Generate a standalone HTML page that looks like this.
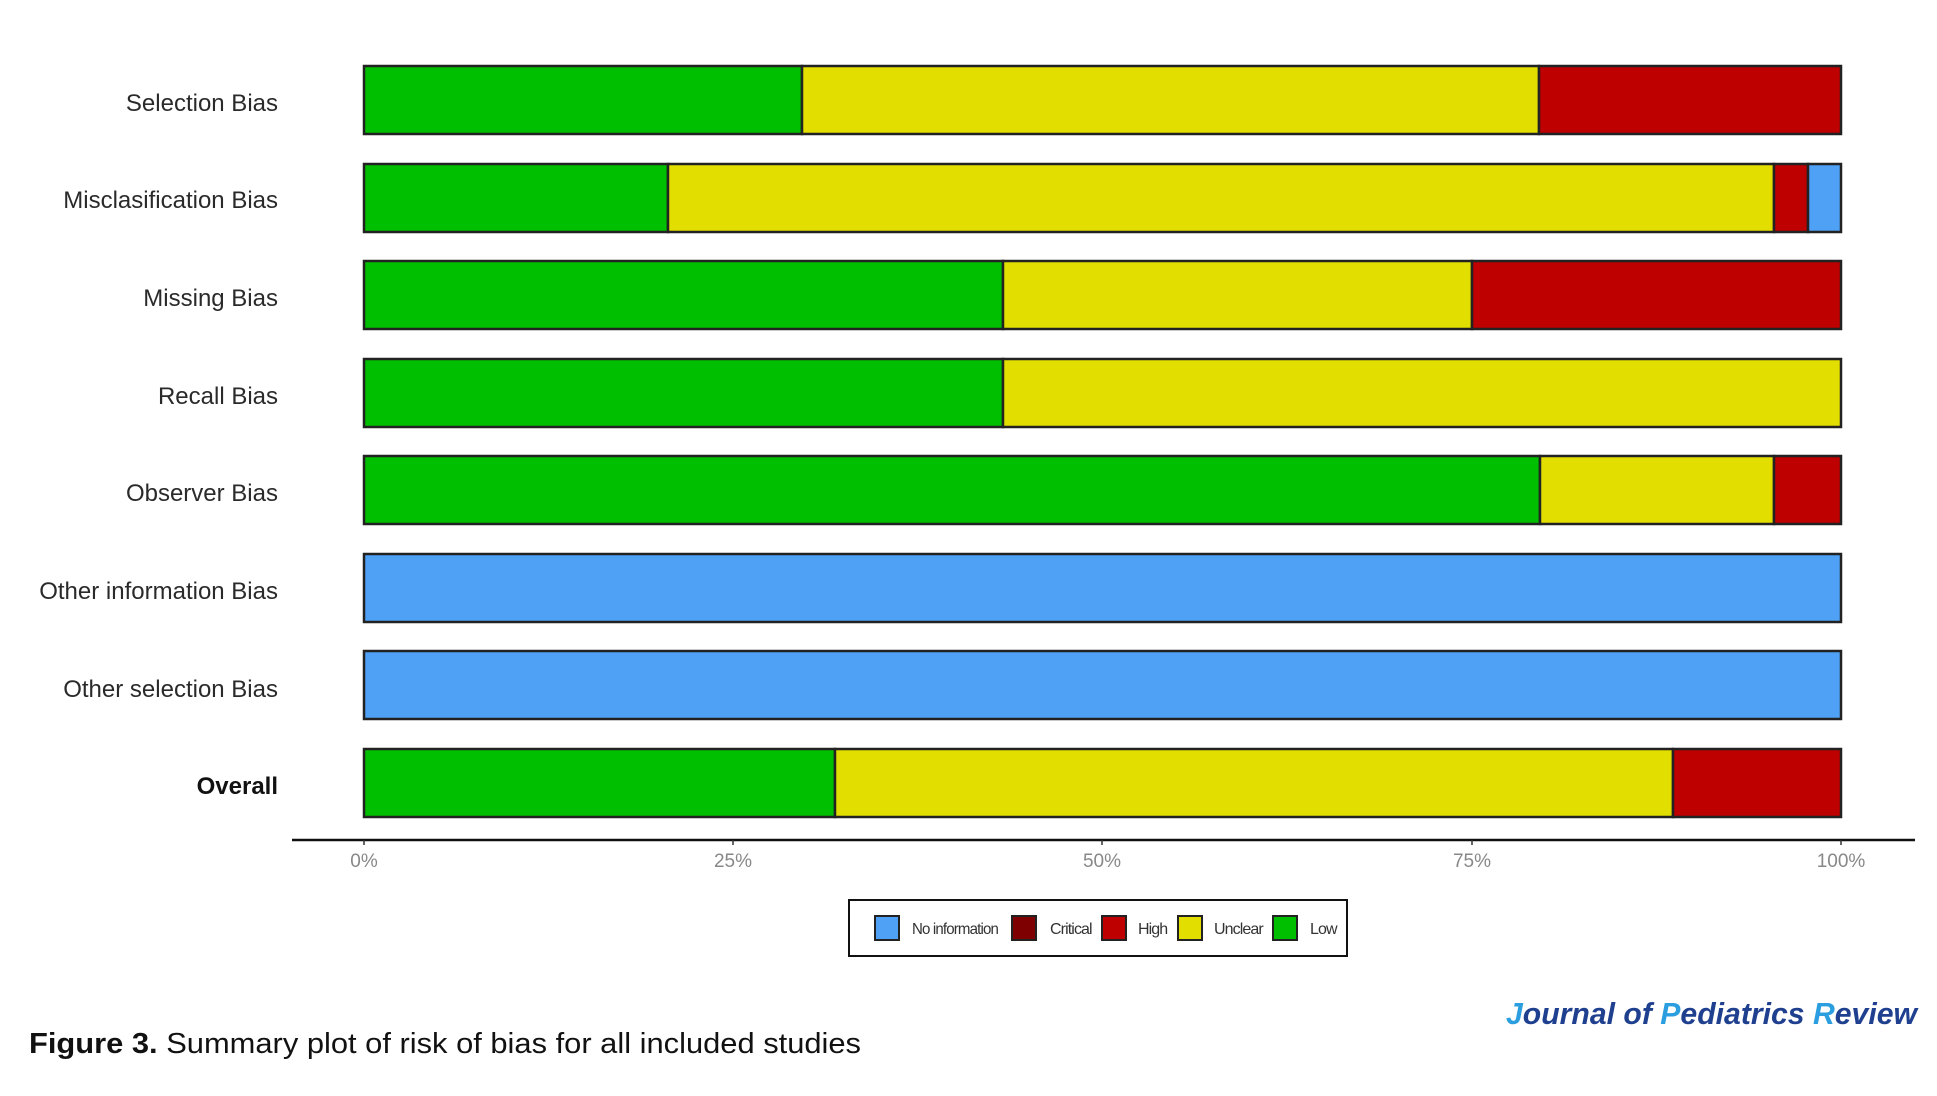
<!DOCTYPE html>
<html><head><meta charset="utf-8"><style>
html,body{margin:0;padding:0;background:#fff;}
svg{display:block;}
</style></head><body>
<svg width="1937" height="1096" viewBox="0 0 1937 1096" xmlns="http://www.w3.org/2000/svg" font-family="Liberation Sans, sans-serif">
<rect width="1937" height="1096" fill="#fff"/>
<g font-size="24" fill="#2a2a2a" text-anchor="end">
<text x="278" y="111">Selection Bias</text>
<text x="278" y="208">Misclasification Bias</text>
<text x="278" y="306">Missing Bias</text>
<text x="278" y="404">Recall Bias</text>
<text x="278" y="501">Observer Bias</text>
<text x="278" y="599">Other information Bias</text>
<text x="278" y="697">Other selection Bias</text>
<text x="278" y="794" font-weight="bold" fill="#111">Overall</text>
</g>
<g stroke="#222" stroke-width="2.5">
<rect x="364" y="66" width="438" height="68" fill="#00bf00"/>
<rect x="802" y="66" width="737" height="68" fill="#e2df00"/>
<rect x="1539" y="66" width="302" height="68" fill="#be0000"/>
<rect x="364" y="164" width="304" height="68" fill="#00bf00"/>
<rect x="668" y="164" width="1106" height="68" fill="#e2df00"/>
<rect x="1774" y="164" width="34" height="68" fill="#be0000"/>
<rect x="1808" y="164" width="33" height="68" fill="#4fa1f5"/>
<rect x="364" y="261" width="639" height="68" fill="#00bf00"/>
<rect x="1003" y="261" width="469" height="68" fill="#e2df00"/>
<rect x="1472" y="261" width="369" height="68" fill="#be0000"/>
<rect x="364" y="359" width="639" height="68" fill="#00bf00"/>
<rect x="1003" y="359" width="838" height="68" fill="#e2df00"/>
<rect x="364" y="456" width="1176" height="68" fill="#00bf00"/>
<rect x="1540" y="456" width="234" height="68" fill="#e2df00"/>
<rect x="1774" y="456" width="67" height="68" fill="#be0000"/>
<rect x="364" y="554" width="1477" height="68" fill="#4fa1f5"/>
<rect x="364" y="651" width="1477" height="68" fill="#4fa1f5"/>
<rect x="364" y="749" width="471" height="68" fill="#00bf00"/>
<rect x="835" y="749" width="838" height="68" fill="#e2df00"/>
<rect x="1673" y="749" width="168" height="68" fill="#be0000"/>
</g>
<line x1="292" y1="840" x2="1915" y2="840" stroke="#111" stroke-width="2.5"/>
<g stroke="#333" stroke-width="1.5">
<line x1="364" y1="840" x2="364" y2="845"/><line x1="733" y1="840" x2="733" y2="845"/>
<line x1="1102" y1="840" x2="1102" y2="845"/><line x1="1472" y1="840" x2="1472" y2="845"/>
<line x1="1841" y1="840" x2="1841" y2="845"/>
</g>
<g font-size="19" fill="#888" text-anchor="middle">
<text x="364" y="867">0%</text><text x="733" y="867">25%</text><text x="1102" y="867">50%</text>
<text x="1472" y="867">75%</text><text x="1841" y="867">100%</text>
</g>
<rect x="849" y="900" width="498" height="56" fill="#fff" stroke="#111" stroke-width="2"/>
<g stroke="#222" stroke-width="2">
<rect x="875" y="916" width="24" height="24" fill="#4fa1f5"/>
<rect x="1012" y="916" width="24" height="24" fill="#7f0000"/>
<rect x="1102" y="916" width="24" height="24" fill="#be0000"/>
<rect x="1178" y="916" width="24" height="24" fill="#e2df00"/>
<rect x="1273" y="916" width="24" height="24" fill="#00bf00"/>
</g>
<g font-size="16" fill="#333" letter-spacing="-0.9">
<text x="912" y="934" textLength="86" lengthAdjust="spacingAndGlyphs">No information</text>
<text x="1050" y="934">Critical</text>
<text x="1138" y="934">High</text>
<text x="1214" y="934">Unclear</text>
<text x="1310" y="934">Low</text>
</g>
<text x="29" y="1053" font-size="29" fill="#111" textLength="832" lengthAdjust="spacingAndGlyphs"><tspan font-weight="bold">Figure 3.</tspan> Summary plot of risk of bias for all included studies</text>
<text x="1506" y="1024" font-size="31" font-weight="bold" font-style="italic" fill="#1f3f8f" textLength="411" lengthAdjust="spacingAndGlyphs"><tspan fill="#2b9ee0">J</tspan>ournal of <tspan fill="#2b9ee0">P</tspan>ediatrics <tspan fill="#2b9ee0">R</tspan>eview</text>
</svg>
</body></html>
